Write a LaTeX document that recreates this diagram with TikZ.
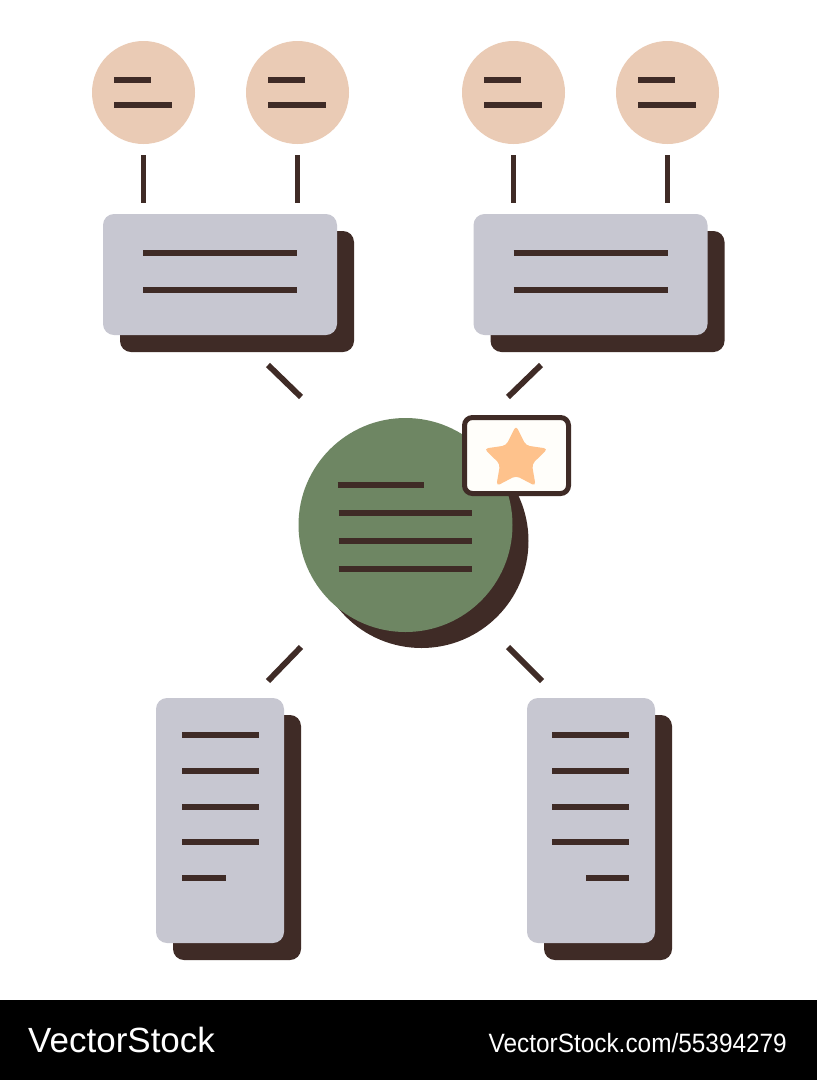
\documentclass[tikz,border=0pt]{standalone}
\usepackage{fontspec}
\setmainfont{Liberation Sans}
\usetikzlibrary{shapes.geometric,shadows}

\definecolor{ink}{HTML}{3F2B26}
\definecolor{peach}{HTML}{EACBB5}
\definecolor{card}{HTML}{C7C7D1}
\definecolor{sage}{HTML}{6E8663}
\definecolor{starfill}{HTML}{FEC28C}
\definecolor{paper}{HTML}{FFFEFA}

\begin{document}
\begin{tikzpicture}[x=1pt, y=-1pt,
	bar/.style={ink, line width=5.8pt},
	link/.style={ink, line width=5.8pt},
	bubble/.style={circle, fill=peach, minimum size=103pt, inner sep=0pt},
	sheet/.style={rectangle, rounded corners=11pt, fill=card, inner sep=0pt,
		drop shadow={shadow xshift=17pt, shadow yshift=-17pt, fill=ink, opacity=1}},
	hubstyle/.style={circle, fill=sage, minimum size=214pt, inner sep=0pt,
		drop shadow={shadow xshift=16pt, shadow yshift=-16pt, fill=ink, opacity=1}},
	]
	
		\useasboundingbox (0,0) rectangle (817,1080);
		\fill[white] (0,0) rectangle (817,1080);
		
		% top circles
		\foreach \n/\x in {p1/143.5, p2/297.5, p3/513.5, p4/667.5}{
			\node[bubble] (\n) at (\x, 92.5) {};
			\draw[bar] ([shift={(-29.5,-12.5)}]\n.center) -- ++(37,0);
			\draw[bar] ([shift={(-29.5,12.5)}]\n.center) -- ++(58,0);
		}
		
		% top boxes
		\node[sheet, minimum width=234pt, minimum height=121pt] (b1) at (220, 274.5) {};
		\node[sheet, minimum width=234pt, minimum height=121pt] (b2) at (590.5, 274.5) {};
		\foreach \b in {b1,b2}
			\foreach \dy in {-21.5,15.5}
				\draw[bar] ([shift={(-77,\dy)}]\b.center) -- ++(154,0);
		
		\foreach \p/\b in {p1/b1, p2/b1, p3/b2, p4/b2}
			\draw[link, shorten <=11pt, shorten >=11pt] (\p.south) -- (\p.south |- \b.north);
		
		% hub
		\node[hubstyle] (hub) at (405.5, 525) {};
		\draw[bar] ([shift={(-68,-40)}]hub.center) -- ++(86,0);
		\foreach \dy in {-12,16,44}
			\draw[bar] ([shift={(-67,\dy)}]hub.center) -- ++(133,0);
		
		\node[rectangle, draw=ink, line width=5pt, fill=paper, rounded corners=8pt,
			minimum width=104pt, minimum height=76pt] (badge) at (516.5, 455.5) {};
		\node[star, star points=5, star point ratio=2.0, fill=starfill, minimum size=67pt,
			inner sep=0pt, rounded corners=4pt] (prize) at (516, 459) {};
		
		% bottom sheets
		\node[sheet, minimum width=128pt, minimum height=245pt] (d1) at (220, 820.5) {};
		\node[sheet, minimum width=128pt, minimum height=245pt] (d2) at (591, 820.5) {};
		\foreach \dy in {-85.5,-49.5,-13.5,21.5}{
			\draw[bar] ([shift={(-38,\dy)}]d1.center) -- ++(77,0);
			\draw[bar] ([shift={(-39,\dy)}]d2.center) -- ++(77,0);
		}
		\draw[bar] ([shift={(-38,57.5)}]d1.center) -- ++(44,0);
		\draw[bar] ([shift={(-5,57.5)}]d2.center) -- ++(43,0);
		
		% diagonal links
		\coordinate (u1) at (268,365); \coordinate (v1) at (301,397);
		\coordinate (u2) at (541,365); \coordinate (v2) at (508,397);
		\coordinate (u3) at (301,647); \coordinate (v3) at (268,681);
		\coordinate (u4) at (508,647); \coordinate (v4) at (542,681);
		\foreach \i in {1,...,4}
			\draw[link] (u\i) -- (v\i);
		
		% footer
		\fill[black] (0,1000) rectangle (817,1080);
		\node[white, anchor=base west, inner sep=0pt, font=\fontsize{35}{40}\selectfont] (mark) at (28,1052) {VectorStock};
		\node[white, anchor=base east, inner sep=0pt, font=\fontsize{26.5}{30}\selectfont] (url) at (787,1052) {\scalebox{0.92}[1]{VectorStock.com/55394279}};
	
	\end{tikzpicture}
\end{document}
